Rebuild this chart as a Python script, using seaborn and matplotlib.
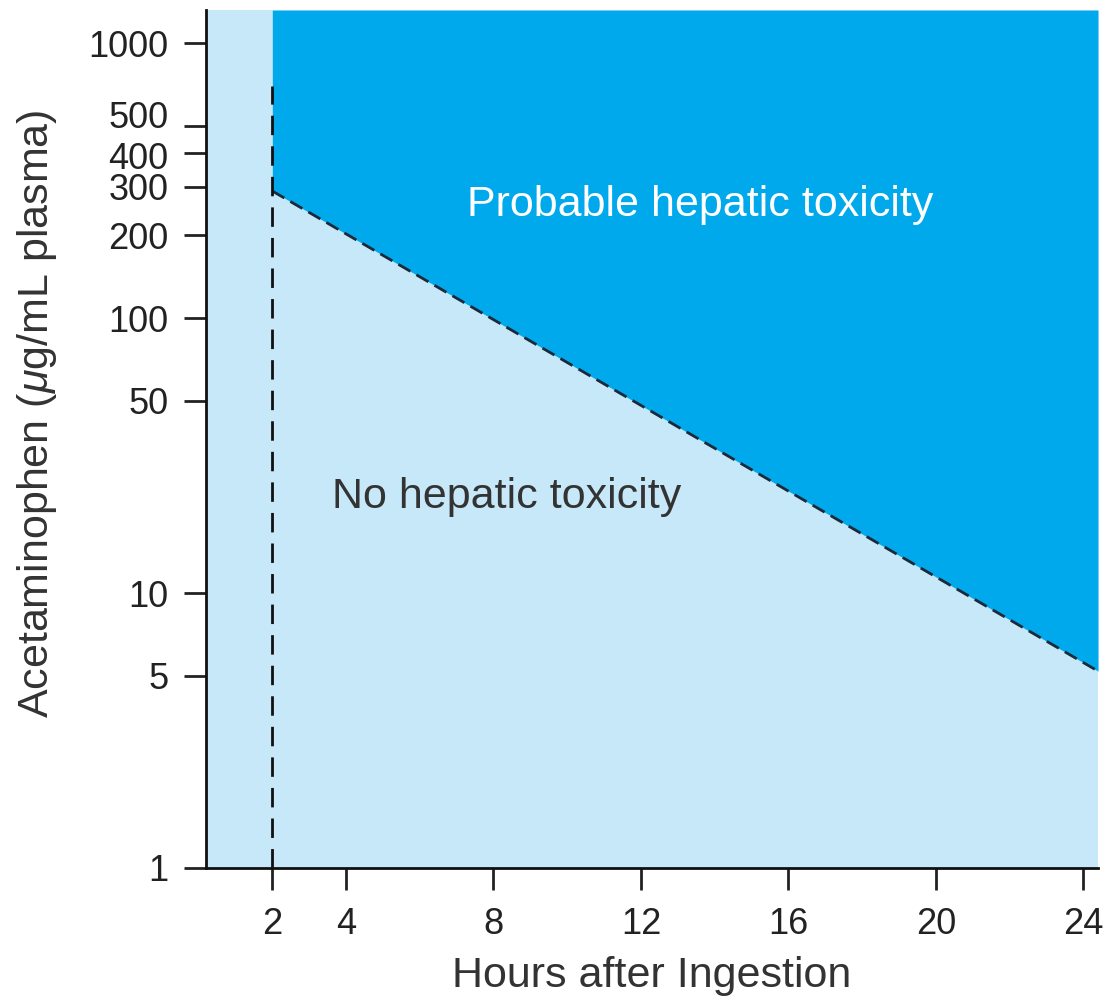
import numpy as np
import pandas as pd
import seaborn as sns
import matplotlib.pyplot as plt
from matplotlib.transforms import ScaledTranslation

# treatment line (hours, ug/mL)
line_hours = [2, 24.4]
line_conc = [290, 5.2]
# vertical 2-hour marker
marker_hours = [2, 2]
marker_conc = [1, 700]

x_ticks = [2, 4, 8, 12, 16, 20, 24]
y_ticks = [1, 5, 10, 50, 100, 200, 300, 400, 500, 1000]

dark_blue = '#00A9EC'
light_blue = '#C6E8F8'

sns.set_style('ticks')
plt.rcParams['font.family'] = ['Liberation Sans', 'DejaVu Sans']
plt.rcParams['mathtext.fontset'] = 'custom'
plt.rcParams['mathtext.it'] = 'Liberation Sans:italic'
plt.rcParams['mathtext.rm'] = 'Liberation Sans'

fig = plt.figure(figsize=(11.05, 10.01), dpi=100)
ax = fig.add_axes([0.1864, 0.1329, 0.8073, 0.857])
ax.set_facecolor(light_blue)
ax.set_yscale('log')
ax.set_xlim(0.2, 24.4)
ax.set_ylim(1, 1320)

# probable toxicity region above the line
ax.fill_between(line_hours, line_conc, [1320, 1320], color=dark_blue, lw=0, zorder=1)

df = pd.DataFrame({'hours': line_hours, 'conc': line_conc})
sns.lineplot(data=df, x='hours', y='conc', ax=ax, color='#1a2a3a', lw=2,
             estimator=None, zorder=3)
ax.lines[-1].set_dashes([5, 2.5])
mk = pd.DataFrame({'hours': marker_hours, 'conc': marker_conc})
sns.lineplot(data=mk, x='hours', y='conc', ax=ax, color='#111111', lw=2,
             estimator=None, sort=False, zorder=3)
ax.lines[-1].set_dashes([7, 4])

ax.text(13.6, 257, 'Probable hepatic toxicity', color='white', fontsize=31,
        ha='center', va='center')
ax.text(8.35, 22.3, 'No hepatic toxicity', color='#333333', fontsize=31,
        ha='center', va='center')

ax.set_xticks(x_ticks)
ax.set_xticklabels([str(v) for v in x_ticks])
ax.set_yticks(y_ticks)
ax.set_yticklabels([str(v) for v in y_ticks])
ax.yaxis.set_minor_locator(plt.NullLocator())
ax.tick_params(axis='both', length=16, width=2, labelsize=26, colors='#222222')
ax.tick_params(axis='y', pad=11)
ax.tick_params(axis='x', pad=12)

# spread the crowded 400/500 labels a little, as in the original
for lab in ax.get_yticklabels():
    if lab.get_text() == '500':
        lab.set_transform(lab.get_transform() + ScaledTranslation(0, 8 / 72, fig.dpi_scale_trans))
    if lab.get_text() == '400':
        lab.set_transform(lab.get_transform() + ScaledTranslation(0, -2 / 72, fig.dpi_scale_trans))

ax.set_xlabel('Hours after Ingestion', fontsize=31, color='#333333', labelpad=10)
ax.set_ylabel(r'Acetaminophen ($\mu$g/mL plasma)', fontsize=31, color='#333333')
ax.yaxis.set_label_coords(-0.165, 0.53)

for s in ['top', 'right']:
    ax.spines[s].set_visible(False)
for s in ['left', 'bottom']:
    ax.spines[s].set_linewidth(2)
    ax.spines[s].set_color('#111111')

fig.savefig('out.png', dpi=100)
